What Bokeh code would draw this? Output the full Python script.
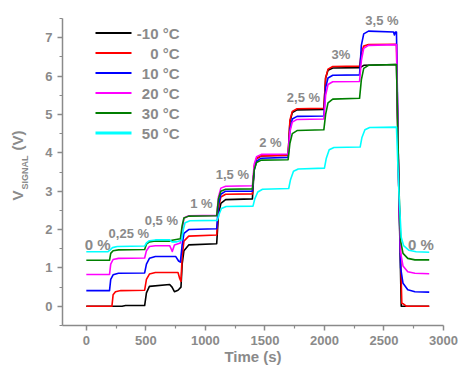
import math
from bokeh.plotting import figure
from bokeh.models import Range1d, FixedTicker, Label, BoxAnnotation
from bokeh.embed import file_html
from bokeh.resources import INLINE

# ---------------- data ----------------
series_names = ["-10 °C", "0 °C", "10 °C", "20 °C", "30 °C", "50 °C"]
series_colors = ["#000000", "#ff0000", "#0000ff", "#ff00ff", "#008000", "#00ffff"]

t_m10 = [0, 300, 330, 490, 505, 530, 700, 720, 740, 770, 795, 805, 820, 860,
         1095, 1110, 1130, 1170, 1395, 1410, 1430, 1470, 1695, 1710, 1730, 1770,
         1995, 2010, 2030, 2070, 2300, 2330, 2605, 2625, 2645, 2880]
v_m10 = [0.0, 0.0, 0.02, 0.02, 0.35, 0.52, 0.57, 0.5, 0.38, 0.42, 0.5, 1.1, 1.45, 1.6,
         1.63, 2.4, 2.68, 2.78, 2.8, 3.6, 3.85, 3.92, 3.95, 4.8, 5.05, 5.12,
         5.13, 5.95, 6.15, 6.21, 6.22, 6.28, 6.3, 3.0, 0.0, 0.0]

t_0 = [0, 215, 225, 245, 290, 490, 505, 530, 580, 770, 785, 795, 805, 820, 860,
       1095, 1110, 1130, 1170, 1395, 1410, 1430, 1470, 1695, 1710, 1730, 1770,
       1995, 2010, 2030, 2070, 2295, 2310, 2330, 2370, 2605, 2625, 2650, 2665, 2690, 2880]
v_0 = [0.0, 0.0, 0.3, 0.38, 0.41, 0.42, 0.7, 0.84, 0.88, 0.88, 0.72, 0.65, 1.3, 1.7, 1.83,
       1.86, 2.55, 2.85, 2.92, 2.93, 3.65, 3.85, 3.92, 3.93, 4.85, 5.08, 5.15,
       5.16, 5.95, 6.18, 6.25, 6.26, 6.6, 6.78, 6.82, 6.83, 3.0, 0.08, 0.06, 0.0, 0.0]

t_10 = [0, 195, 205, 225, 270, 490, 505, 530, 580, 750, 775, 790, 805, 820, 860,
        1095, 1110, 1130, 1170, 1395, 1410, 1430, 1470, 1695, 1710, 1730, 1770,
        1995, 2010, 2030, 2070, 2295, 2310, 2330, 2370, 2580, 2588, 2596, 2605,
        2625, 2640, 2660, 2700, 2760, 2880]
v_10 = [0.41, 0.41, 0.7, 0.82, 0.86, 0.87, 1.1, 1.25, 1.3, 1.3, 1.18, 1.15, 1.6, 1.9, 2.0,
        2.02, 2.65, 2.92, 3.0, 3.0, 3.55, 3.78, 3.86, 3.88, 4.6, 4.88, 4.95,
        4.96, 5.7, 5.95, 6.02, 6.03, 6.8, 7.1, 7.17, 7.15, 7.07, 7.15, 7.15,
        3.0, 1.0, 0.6, 0.43, 0.38, 0.37]

t_20 = [0, 195, 205, 225, 270, 490, 505, 530, 580, 700, 712, 722, 740, 790, 805, 820, 860,
        1095, 1110, 1130, 1170, 1395, 1410, 1430, 1470, 1695, 1710, 1730, 1770,
        1995, 2010, 2030, 2070, 2295, 2310, 2330, 2370, 2605, 2625, 2640, 2660, 2700, 2760, 2880]
v_20 = [0.83, 0.83, 1.1, 1.22, 1.25, 1.26, 1.45, 1.56, 1.58, 1.58, 1.5, 1.43, 1.6, 1.65, 2.0, 2.3, 2.36,
        2.37, 2.85, 3.08, 3.13, 3.14, 3.7, 3.9, 3.96, 3.97, 4.55, 4.8, 4.87,
        4.88, 5.5, 5.78, 5.85, 5.86, 6.4, 6.72, 6.8, 6.82, 3.0, 1.4, 1.05, 0.9, 0.86, 0.85]

t_30 = [0, 195, 205, 225, 270, 490, 505, 530, 580, 700, 720, 790, 805, 820, 860,
        1095, 1110, 1130, 1170, 1395, 1410, 1430, 1470, 1695, 1710, 1730, 1770,
        1995, 2010, 2030, 2070, 2295, 2310, 2330, 2370, 2605, 2625, 2640, 2660, 2700, 2760, 2880]
v_30 = [1.2, 1.2, 1.38, 1.45, 1.47, 1.48, 1.62, 1.68, 1.7, 1.7, 1.72, 1.76, 2.1, 2.3, 2.35,
        2.36, 2.8, 3.0, 3.05, 3.06, 3.55, 3.75, 3.81, 3.82, 4.25, 4.5, 4.58,
        4.6, 5.0, 5.3, 5.4, 5.42, 5.9, 6.2, 6.28, 6.3, 3.2, 1.7, 1.38, 1.25, 1.21, 1.21]

t_50 = [0, 180, 200, 220, 260, 490, 505, 530, 580, 700, 720, 760, 800, 815, 830, 870,
        1100, 1115, 1135, 1175, 1400, 1415, 1440, 1480, 1700, 1715, 1740, 1780,
        2000, 2015, 2040, 2080, 2300, 2315, 2340, 2380, 2605, 2625, 2645, 2665, 2710, 2770, 2880]
v_50 = [1.42, 1.42, 1.47, 1.53, 1.56, 1.57, 1.65, 1.71, 1.73, 1.73, 1.68, 1.68, 1.72, 2.0, 2.18, 2.23,
        2.24, 2.4, 2.55, 2.6, 2.61, 2.8, 2.98, 3.05, 3.07, 3.3, 3.52, 3.58,
        3.6, 3.85, 4.08, 4.14, 4.15, 4.4, 4.6, 4.66, 4.67, 3.0, 1.8, 1.58, 1.46, 1.42, 1.41]

series_t = [t_m10, t_0, t_10, t_20, t_30, t_50]
series_v = [v_m10, v_0, v_10, v_20, v_30, v_50]

x_ticks = [0, 500, 1000, 1500, 2000, 2500, 3000]
x_minor = [250, 750, 1250, 1750, 2250, 2750]
y_ticks = [0, 1, 2, 3, 4, 5, 6, 7]
y_minor = [-0.5, 0.5, 1.5, 2.5, 3.5, 4.5, 5.5, 6.5, 7.5]

step_labels = ["0 %", "0,25 %", "0,5 %", "1 %", "1,5 %", "2 %", "2,5 %", "3%", "3,5 %", "0 %"]
step_label_t = [95, 357, 630, 966, 1227, 1546, 1824, 2139, 2483, 2811]
step_label_v = [1.6, 1.885, 2.24, 2.68, 3.44, 4.27, 5.45, 6.57, 7.45, 1.62]
step_label_size = ["15px", "13px", "13px", "13px", "13px", "13px", "13px", "13px", "13px", "15px"]

# ---------------- geometry ----------------
GRAY = "#8a8a8a"
FONT = "Liberation Sans"
W, H = 458, 367
AX_L, AX_R, AX_T, AX_B = 62, 443, 18, 325      # pixel box of the axes
X0, X1, Y0, Y1 = -200, 3000, -0.5, 7.5          # data extent of the axes
SX = (AX_R - AX_L) / (X1 - X0)
SY = (AX_B - AX_T) / (Y1 - Y0)

p = figure(width=W, height=H, output_backend="svg", toolbar_location=None,
           x_range=Range1d(X0 - AX_L / SX, X1 + (W - AX_R) / SX),
           y_range=Range1d(Y0 - (H - AX_B) / SY, Y1 + AX_T / SY),
           min_border=0, min_border_left=0, min_border_right=0,
           min_border_top=0, min_border_bottom=0)
p.title.visible = False
p.outline_line_color = None
p.xgrid.visible = False
p.ygrid.visible = False
p.background_fill_color = "white"
p.border_fill_color = "white"

xa, ya = p.xaxis[0], p.yaxis[0]
xa.fixed_location = Y0
ya.fixed_location = X0
xa.bounds = (X0, X1)
ya.bounds = (Y0, Y1)

for ax in (xa, ya):
    ax.axis_line_color = GRAY
    ax.axis_line_width = 1.5
    ax.major_tick_line_color = GRAY
    ax.minor_tick_line_color = GRAY
    ax.major_tick_line_width = 1.5
    ax.minor_tick_line_width = 1.2
    ax.major_tick_in = 0
    ax.major_tick_out = 5
    ax.minor_tick_in = 0
    ax.minor_tick_out = 3
    ax.major_label_text_font = FONT
    ax.major_label_text_font_style = "bold"
    ax.major_label_text_font_size = "13px"
    ax.major_label_text_color = GRAY

xa.ticker = FixedTicker(ticks=x_ticks, minor_ticks=x_minor)
ya.ticker = FixedTicker(ticks=y_ticks, minor_ticks=y_minor)
xa.major_label_standoff = 5
ya.major_label_standoff = 5
xa.axis_label = "Time (s)"
xa.axis_label_text_font = FONT
xa.axis_label_text_font_style = "bold"
xa.axis_label_text_font_size = "15px"
xa.axis_label_text_color = GRAY
xa.axis_label_standoff = 0

# series (later ones lie on top)
for t, v, c in zip(series_t, series_v, series_colors):
    p.line(t, v, line_color=c, line_width=1.6, line_join="round")

# step annotations
for txt, tx, ty, fs in zip(step_labels, step_label_t, step_label_v, step_label_size):
    p.add_layout(Label(x=tx, y=ty, text=txt, text_align="center", text_baseline="middle",
                       text_font=FONT, text_font_style="bold", text_font_size=fs,
                       text_color=GRAY))

# screen helpers (frame == whole canvas)
def sx(px):
    return px

def sy(py):
    return H - py

def lab(px, py, txt, size, align="left", angle=0.0):
    p.add_layout(Label(x=sx(px), y=sy(py), x_units="screen", y_units="screen", text=txt,
                       angle=angle, text_align=align, text_baseline="middle",
                       text_font=FONT, text_font_style="bold", text_font_size=size,
                       text_color=GRAY))

# y axis label  V_SIGNAL (V)
lab(17, 200, "V", "15px", angle=math.pi / 2)
lab(24.5, 189, "SIGNAL", "9px", angle=math.pi / 2)
lab(17, 150, "(V)", "15px", angle=math.pi / 2)

# legend (drawn by hand so that labels are right aligned)
for i, (name, c) in enumerate(zip(series_names, series_colors)):
    row = 32.5 + 20 * i
    th = 3 if c == "#00ffff" else 2
    p.add_layout(BoxAnnotation(left=sx(95), right=sx(131), top=sy(row - th / 2), bottom=sy(row + th / 2),
                               left_units="screen", right_units="screen",
                               top_units="screen", bottom_units="screen",
                               fill_color=c, fill_alpha=1.0, line_color=None))
    lab(179, row, name, "15px", align="right")

open("out.html", "w").write(file_html(p, INLINE))
